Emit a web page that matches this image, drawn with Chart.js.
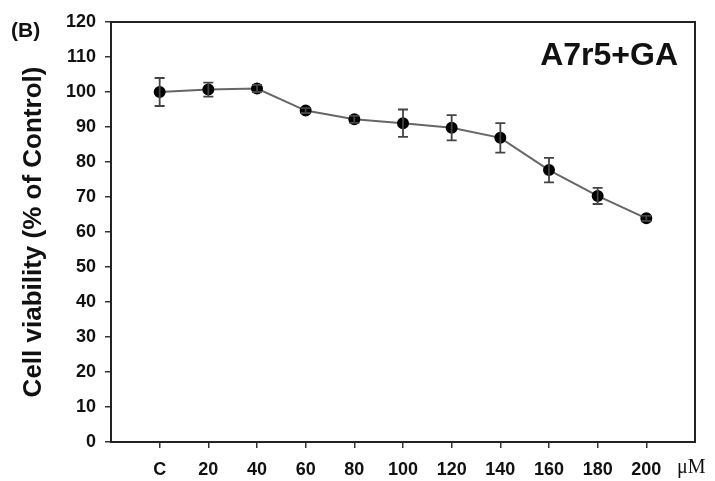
<!DOCTYPE html>
<html>
<head>
<meta charset="utf-8">
<script src="https://cdn.jsdelivr.net/npm/chart.js@4"></script>
<style>
  html, body { margin: 0; padding: 0; background: #fff; }
  #wrap { width: 715px; height: 481px; }
</style>
</head>
<body>
<div id="wrap"><canvas id="c" width="715" height="481"></canvas></div>
<script>
// Data
const categories = ['C', '20', '40', '60', '80', '100', '120', '140', '160', '180', '200'];
const viability = [100.0, 100.7, 101.0, 94.7, 92.2, 91.1, 89.8, 86.9, 77.7, 70.3, 63.9];
const errors = [4.0, 2.0, 1.0, 0.7, 1.0, 3.9, 3.6, 4.2, 3.5, 2.3, 0.7];
const yTicks = [0, 10, 20, 30, 40, 50, 60, 70, 80, 90, 100, 110, 120];

const FONT = '"Liberation Sans", Arial, sans-serif';

const points = viability.map((v, i) => ({ x: i, y: v }));

const framePlugin = {
  id: 'frame',
  afterDatasetsDraw(chart) {
    const { ctx, scales } = chart;
    ctx.save();
    ctx.strokeStyle = '#444';
    ctx.lineWidth = 1.8;
    viability.forEach((v, i) => {
      const x = scales.x.getPixelForValue(i);
      const yt = scales.y.getPixelForValue(v + errors[i]);
      const yb = scales.y.getPixelForValue(v - errors[i]);
      ctx.beginPath();
      ctx.moveTo(x, yt); ctx.lineTo(x, yb);
      ctx.moveTo(x - 5, yt); ctx.lineTo(x + 5, yt);
      ctx.moveTo(x - 5, yb); ctx.lineTo(x + 5, yb);
      ctx.stroke();
    });
    ctx.restore();
  },
  afterDraw(chart) {
    const { ctx, chartArea: a } = chart;
    ctx.save();
    ctx.strokeStyle = '#222';
    ctx.lineWidth = 2;
    ctx.strokeRect(a.left, a.top, a.right - a.left, a.bottom - a.top);
    ctx.fillStyle = '#111';
    ctx.font = 'bold 21px ' + FONT;
    ctx.textBaseline = 'middle';
    ctx.textAlign = 'left';
    ctx.fillText('(B)', 11, 31);
    ctx.font = 'bold 32px ' + FONT;
    ctx.textAlign = 'right';
    ctx.textBaseline = 'alphabetic';
    ctx.fillText('A7r5+GA', 678, 65);
    ctx.font = '20px "Liberation Serif", "Times New Roman", serif';
    ctx.textAlign = 'left';
    ctx.textBaseline = 'middle';
    ctx.fillText('\u03bcM', 677, 468);
    ctx.restore();
  }
};

new Chart(document.getElementById('c'), {
  type: 'line',
  data: {
    datasets: [{
      data: points,
      borderColor: '#666',
      borderWidth: 2,
      pointBackgroundColor: '#000',
      pointBorderColor: '#000',
      pointRadius: 5,
      pointHoverRadius: 5,
      tension: 0,
      fill: false
    }]
  },
  options: {
    responsive: false,
    animation: false,
    devicePixelRatio: 1,
    layout: { padding: { left: 0, top: 22, right: 20, bottom: 0 } },
    plugins: { legend: { display: false }, tooltip: { enabled: false } },
    scales: {
      x: {
        type: 'linear',
        min: -1,
        max: 11,
        afterFit(scale) { scale.height = 39; },
        afterBuildTicks(scale) {
          scale.ticks = categories.map((c, i) => ({ value: i }));
        },
        ticks: {
          autoSkip: false,
          maxRotation: 0,
          padding: 11,
          color: '#111',
          font: { family: FONT, size: 18, weight: 'bold' },
          callback: (v) => categories[v] !== undefined ? categories[v] : ''
        },
        grid: { drawOnChartArea: false, drawTicks: true, tickLength: 6, color: '#333', lineWidth: 1.5 },
        border: { display: true, color: '#222', width: 2 }
      },
      y: {
        min: 0,
        max: 120,
        afterFit(scale) { scale.width = 111; },
        afterBuildTicks(scale) {
          scale.ticks = yTicks.map(v => ({ value: v }));
        },
        ticks: {
          padding: 9,
          color: '#111',
          font: { family: FONT, size: 18, weight: 'bold' }
        },
        grid: { drawOnChartArea: false, drawTicks: true, tickLength: 6, color: '#333', lineWidth: 1.5 },
        border: { display: true, color: '#222', width: 2 },
        title: {
          display: true,
          text: 'Cell viability (% of Control)',
          color: '#111',
          font: { family: FONT, size: 26, weight: 'bold' },
          padding: { top: 18, bottom: 0 }
        }
      }
    }
  },
  plugins: [framePlugin]
});
</script>
</body>
</html>
